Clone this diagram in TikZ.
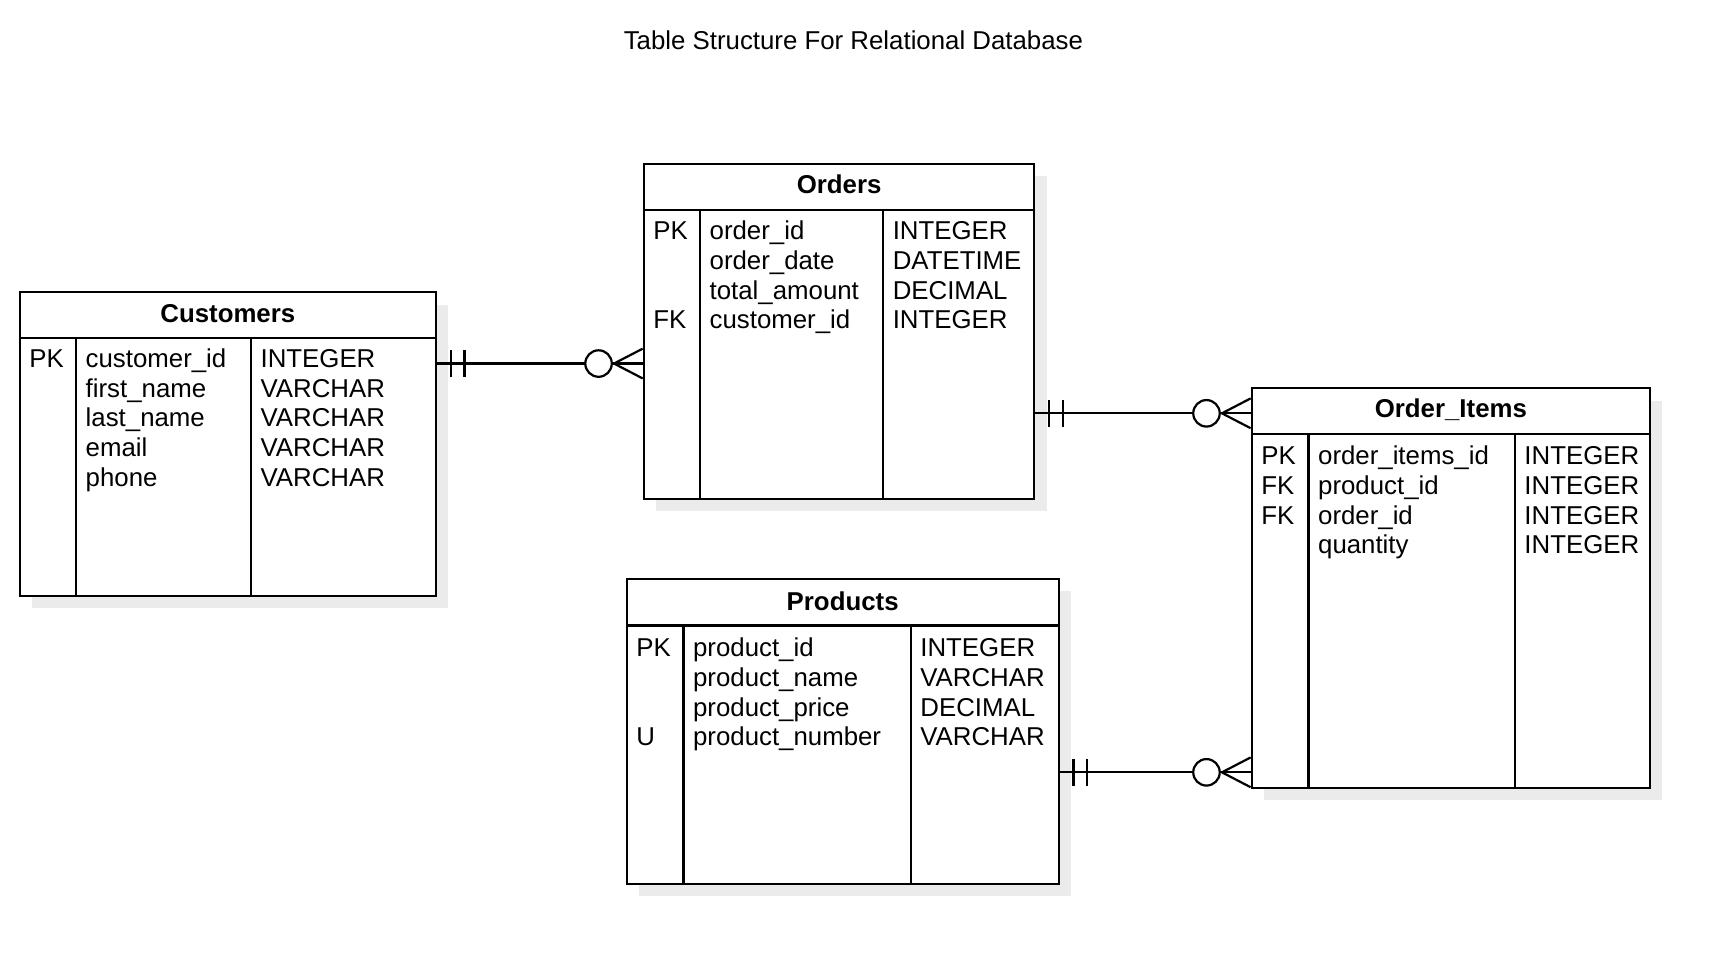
\documentclass[tikz,border=0pt]{standalone}
\usepackage{fontspec}
\setmainfont{Liberation Sans}
\usetikzlibrary{shadows,calc}
\newcommand\erlink[3]{%
  \coordinate (#1-#2-a) at (#1.east |- #3);
  \coordinate (#1-#2-b) at (#2.west |- #3);
  \draw[rel] (#1-#2-a) -- (#1-#2-b);
  \draw[rel] ($(#1-#2-a)+(12.5,-12)$) -- ($(#1-#2-a)+(12.5,12)$);
  \draw[rel] ($(#1-#2-a)+(25,-12)$) -- ($(#1-#2-a)+(25,12)$);
  \draw[rel,fill=white] ($(#1-#2-b)+(-40,0)$) circle[radius=12bp];
  \draw[rel] ($(#1-#2-b)+(0,-13.5)$) -- ($(#1-#2-b)+(-26,0)$) -- ($(#1-#2-b)+(0,13.5)$);
}
\begin{document}
\begin{tikzpicture}[x=1bp,y=-1bp,
  frame/.style={draw=black,line width=2bp},
  tbl/.style={draw=black,line width=2bp,fill=white,inner sep=0pt,
    drop shadow={shadow xshift=11bp,shadow yshift=-11bp,fill=black!8,opacity=1}},
  txt/.style={anchor=base west,inner sep=0pt,font=\fontsize{23.4bp}{27bp}\selectfont},
  hdr/.style={anchor=base,inner sep=0pt,font=\fontsize{23.4bp}{27bp}\selectfont\bfseries},
  rel/.style={draw=black,line width=2bp},
]
\fill[white] (0,0) rectangle (1568,873.7);
\useasboundingbox (0,0) rectangle (1568,873.7);

\node[anchor=base,inner sep=0pt,font=\fontsize{23.4bp}{27bp}\selectfont] (title) at (773.5,44.7) {Table Structure For Relational Database};

% ---------- Customers
\node[tbl,minimum width=377bp,minimum height=275bp] (cust) at (206.5,402.5) {};
\draw[frame] (18,306.5) -- (395,306.5);
\draw[frame] (69,306.5) -- (69,540);
\draw[frame] (227.5,306.5) -- (227.5,540);
\node[hdr] (cust-h) at (206.5,292) {Customers};
\node[txt] (cust-k1) at (26.5,333) {PK};
\foreach \t [count=\i] in {customer\_id,first\_name,last\_name,email,phone}
  \node[txt] (cust-n\i) at (77.5,{333+27*(\i-1)}) {\t};
\foreach \t [count=\i] in {INTEGER,VARCHAR,VARCHAR,VARCHAR,VARCHAR}
  \node[txt] (cust-t\i) at (236,{333+27*(\i-1)}) {\t};

% ---------- Orders
\node[tbl,minimum width=354bp,minimum height=304bp] (orders) at (760.5,300.5) {};
\draw[frame] (583.5,190) -- (937.5,190);
\draw[frame] (634.5,190) -- (634.5,452.5);
\draw[frame] (800.5,190) -- (800.5,452.5);
\node[hdr] (orders-h) at (760.5,175) {Orders};
\node[txt] (orders-k1) at (592,217) {PK};
\node[txt] (orders-k4) at (592,298) {FK};
\foreach \t [count=\i] in {order\_id,order\_date,total\_amount,customer\_id}
  \node[txt] (orders-n\i) at (643,{217+27*(\i-1)}) {\t};
\foreach \t [count=\i] in {INTEGER,DATETIME,DECIMAL,INTEGER}
  \node[txt] (orders-t\i) at (809,{217+27*(\i-1)}) {\t};

% ---------- Products
\node[tbl,minimum width=391.5bp,minimum height=276bp] (prod) at (763.75,663) {};
\draw[frame] (568,567) -- (959.5,567);
\draw[frame] (619.5,567) -- (619.5,801);
\draw[frame] (825.5,567) -- (825.5,801);
\node[hdr] (prod-h) at (763.75,553) {Products};
\node[txt] (prod-k1) at (576.5,595) {PK};
\node[txt] (prod-k4) at (576.5,676) {U};
\foreach \t [count=\i] in {product\_id,product\_name,product\_price,product\_number}
  \node[txt] (prod-n\i) at (628,{595+27*(\i-1)}) {\t};
\foreach \t [count=\i] in {INTEGER,VARCHAR,DECIMAL,VARCHAR}
  \node[txt] (prod-t\i) at (834,{595+27*(\i-1)}) {\t};

% ---------- Order_Items
\node[tbl,minimum width=361bp,minimum height=362bp] (items) at (1315,533) {};
\draw[frame] (1134.5,393) -- (1495.5,393);
\draw[frame] (1186,393) -- (1186,714);
\draw[frame] (1373,393) -- (1373,714);
\node[hdr] (items-h) at (1315,378.3) {Order\_Items};
\foreach \t [count=\i] in {PK,FK,FK}
  \node[txt] (items-k\i) at (1143,{421+27*(\i-1)}) {\t};
\foreach \t [count=\i] in {order\_items\_id,product\_id,order\_id,quantity}
  \node[txt] (items-n\i) at (1194.5,{421+27*(\i-1)}) {\t};
\foreach \t [count=\i] in {INTEGER,INTEGER,INTEGER,INTEGER}
  \node[txt] (items-t\i) at (1381.5,{421+27*(\i-1)}) {\t};

% ---------- relationships
\coordinate (y1) at (0,329.5);
\coordinate (y2) at (0,374.6);
\coordinate (y3) at (0,700);
\erlink{cust}{orders}{y1}
\erlink{orders}{items}{y2}
\erlink{prod}{items}{y3}
\end{tikzpicture}
\end{document}
